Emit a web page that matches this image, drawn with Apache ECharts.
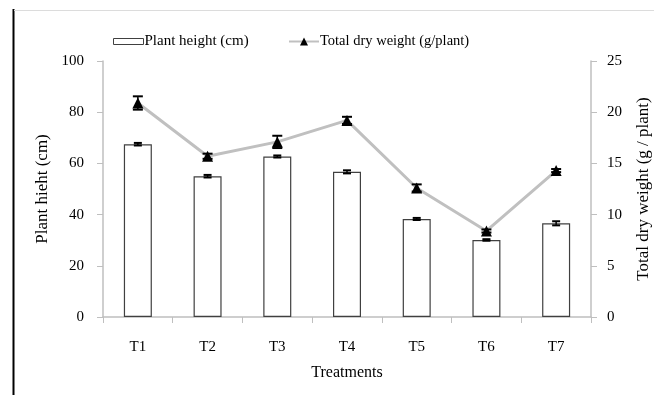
<!DOCTYPE html>
<html>
<head>
<meta charset="utf-8">
<script src="https://cdn.jsdelivr.net/npm/echarts@6/dist/echarts.min.js"></script>
<style>html,body{margin:0;padding:0;background:#fff}#c{width:654px;height:395px}</style>
</head>
<body>
<div id="c"></div>
<script>
const categories = ['T1','T2','T3','T4','T5','T6','T7'];
const plantHeight = [67.5, 55.0, 62.7, 56.7, 38.3, 30.1, 36.6];
const plantHeightErr = [0.5, 0.5, 0.4, 0.6, 0.4, 0.3, 0.8];
const dryWeight = [20.9, 15.7, 17.1, 19.2, 12.6, 8.4, 14.3];
const dryWeightErr = [0.65, 0.25, 0.6, 0.35, 0.35, 0.15, 0.15];
const leftTicks = [0, 20, 40, 60, 80, 100];
const rightTicks = [0, 5, 10, 15, 20, 25];

const FONT = 'Liberation Serif';
const chart = echarts.init(document.getElementById('c'));

function errData(vals, errs){
  return vals.map((v,i)=>[i, v-errs[i], v+errs[i]]);
}
function errRender(capHalf){
  return function(params, api){
    const i = api.value(0);
    const lo = api.coord([i, api.value(1)]);
    const hi = api.coord([i, api.value(2)]);
    const st = {stroke:'#000', lineWidth:1.5};
    return {type:'group', children:[
      {type:'line', shape:{x1:lo[0],y1:lo[1],x2:hi[0],y2:hi[1]}, style:st},
      {type:'line', shape:{x1:lo[0]-capHalf,y1:lo[1],x2:lo[0]+capHalf,y2:lo[1]}, style:{stroke:'#000',lineWidth:2}},
      {type:'line', shape:{x1:hi[0]-capHalf,y1:hi[1],x2:hi[0]+capHalf,y2:hi[1]}, style:{stroke:'#000',lineWidth:2}}
    ]};
  };
}

chart.setOption({
  animation:false,
  backgroundColor:'#fff',
  textStyle:{fontFamily:FONT},
  graphic:[
    {type:'line', shape:{x1:13.5,y1:9,x2:13.5,y2:395}, style:{stroke:'#000',lineWidth:2}},
    {type:'line', shape:{x1:14,y1:10.5,x2:654,y2:10.5}, style:{stroke:'#dcdcdc',lineWidth:1}}
  ],
  legend:[
    {
      top:34, left:113, padding:0,
      itemWidth:30, itemHeight:6, itemGap:4,
      textStyle:{fontFamily:FONT, fontSize:15, color:'#000', padding:[0,0,0,-4]},
      data:[{name:'Plant height (cm)', icon:'rect', itemStyle:{color:'#fff', borderColor:'#404040', borderWidth:1}}]
    },
    {
      top:34, left:288, padding:0,
      itemWidth:30, itemHeight:10, itemGap:4,
      textStyle:{fontFamily:FONT, fontSize:14.5, color:'#000', padding:[0,0,0,-4]},
      data:[{name:'Total dry weight (g/plant)'}]
    }
  ],
  grid:{left:103, right:63, top:61, bottom:78, outerBoundsMode:'none', containLabel:false},
  xAxis:{
    type:'category', data:categories,
    axisLine:{lineStyle:{color:'#bfbfbf', width:1.5}},
    axisTick:{show:true, length:6, lineStyle:{color:'#bfbfbf'}},
    axisLabel:{fontFamily:FONT, fontSize:15, color:'#000', margin:23},
    name:'Treatments', nameLocation:'middle', nameGap:48,
    nameTextStyle:{fontFamily:FONT, fontSize:16, color:'#000'}
  },
  yAxis:[
    {type:'value', min:leftTicks[0], max:leftTicks[leftTicks.length-1], interval:20,
     axisLine:{show:true, lineStyle:{color:'#bfbfbf', width:1.5}},
     axisTick:{show:true, length:6, lineStyle:{color:'#bfbfbf'}},
     splitLine:{show:false},
     axisLabel:{fontFamily:FONT, fontSize:15, color:'#000', margin:19},
     name:'Plant hieht (cm)', nameLocation:'middle', nameGap:52, nameRotate:90,
     nameTextStyle:{fontFamily:FONT, fontSize:17, color:'#000'}},
    {type:'value', min:rightTicks[0], max:rightTicks[rightTicks.length-1], interval:5, position:'right',
     axisLine:{show:true, lineStyle:{color:'#bfbfbf', width:1.5}},
     axisTick:{show:true, length:6, lineStyle:{color:'#bfbfbf'}},
     splitLine:{show:false},
     axisLabel:{fontFamily:FONT, fontSize:15, color:'#000', margin:16},
     name:'Total dry weight (g / plant)', nameLocation:'middle', nameGap:44, nameRotate:90,
     nameTextStyle:{fontFamily:FONT, fontSize:17, color:'#000'}}
  ],
  series:[
    {name:'Plant height (cm)', type:'bar', data:plantHeight, barWidth:28, yAxisIndex:0,
     itemStyle:{color:'#fff', borderColor:'#404040', borderWidth:1.2}, z:2},
    {type:'custom', yAxisIndex:0, data:errData(plantHeight, plantHeightErr), renderItem:errRender(4), z:5, silent:true},
    {name:'Total dry weight (g/plant)', type:'line', data:dryWeight, yAxisIndex:1,
     symbol:'triangle', symbolSize:11, showAllSymbol:true,
     lineStyle:{color:'#c0c0c0', width:3}, itemStyle:{color:'#000'}, z:3},
    {type:'custom', yAxisIndex:1, data:errData(dryWeight, dryWeightErr), renderItem:errRender(5), z:6, silent:true}
  ]
});
</script>
</body>
</html>
